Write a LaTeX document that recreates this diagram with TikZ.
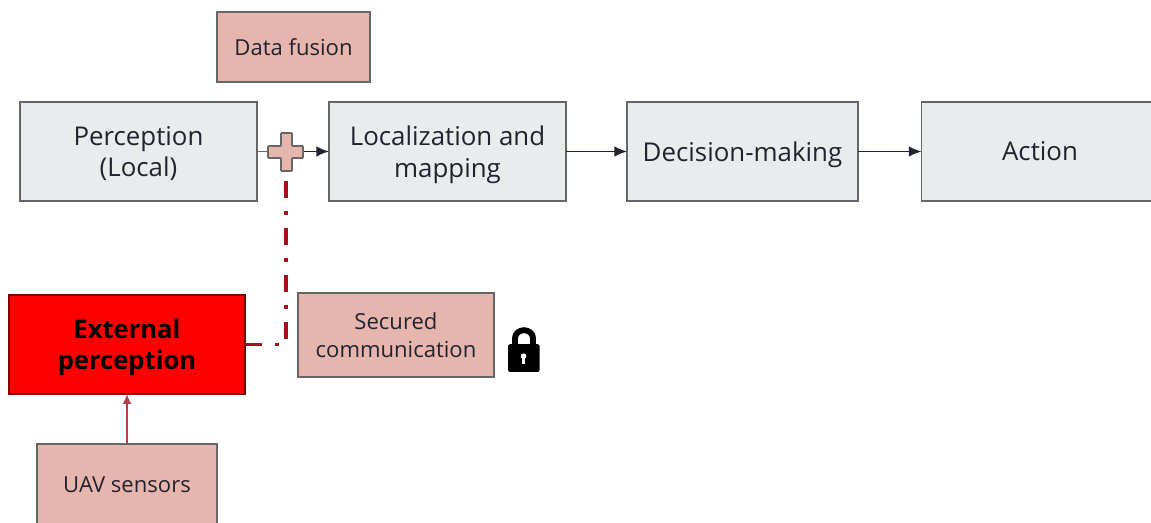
\documentclass[tikz,border=0pt]{standalone}
\usepackage{fontspec}
\setmainfont{Open Sans}
\usepackage{xcolor}
\usetikzlibrary{arrows.meta, calc}
\definecolor{boxgrey}{HTML}{E8ECEC}
\definecolor{boxpink}{HTML}{E6B5AD}
\definecolor{edgegrey}{HTML}{666666}
\definecolor{inkdark}{HTML}{23232F}
\definecolor{linkred}{HTML}{A80F1E}
\tikzset{
	stagebox/.style={draw=edgegrey,line width=1pt,fill=boxgrey,text=inkdark,outer sep=0pt,align=center,text depth=0pt,
		minimum width=5.925cm,minimum height=2.475cm,font=\fontsize{18.4}{22.7}\selectfont},
	pinkbox/.style={draw=edgegrey,line width=1pt,fill=boxpink,text=inkdark,outer sep=0pt,align=center,
		font=\fontsize{15.7}{20}\selectfont},
	flowarrow/.style={-{Latex[length=9pt,width=7.5pt]},line width=1pt,draw=inkdark},
}
\begin{document}
\begin{tikzpicture}
	\useasboundingbox (0,0) rectangle (28.775,13.075);

	% main chain
	\node[stagebox] (perception) at (3.4625,9.2875) {Perception\\(Local)};
	\node[stagebox] (localization) at (11.1875,9.2875) {Localization and\\mapping};
	\node[stagebox,minimum width=5.775cm] (decision) at (18.5625,9.2875) {Decision-making};
	\node[stagebox] (action) at (26,9.2875) {Action};
	\node[pinkbox,minimum width=3.825cm,minimum height=1.75cm] (fusion) at (7.3375,11.9) {Data fusion};

	% plus sign
	\node[minimum width=.875cm,minimum height=.3cm,inner sep=0pt,outer sep=0pt] (plus) at (7.15,9.2875) {};
	\coordinate (plusdown) at (7.15,8.625);

	% mapping lines
	\draw[flowarrow,-,draw=edgegrey] (perception) -- (plus);
	\draw[flowarrow] (plus) -- (localization);
	\draw[flowarrow] (localization) -- (decision);
	\draw[flowarrow] (decision) -- (action);
	\draw[draw=edgegrey,fill=boxpink,line width=1.2pt,rounded corners=.5pt]
	(6.7,9.125) -- (7.025,9.125) -- (7.025,8.8) -- (7.3,8.8) -- (7.3,9.125) -- (7.575,9.125)
	-- (7.575,9.425) -- (7.3,9.425) -- (7.3,9.75) -- (7.025,9.75) -- (7.025,9.425) -- (6.7,9.425) -- cycle;

	% external part
	\node[stagebox,draw=red!50!black,fill=red,text=black,minimum width=5.9cm,font=\fontsize{18.2}{22}\selectfont\bfseries] (external) at (3.175,4.4625) {External\\perception};
	\node[pinkbox,minimum width=4.9cm,minimum height=2.1cm] (secured) at (9.9,4.7) {Secured\\communication};
	\node[pinkbox,minimum width=4.5cm,minimum height=2.05cm] (sensors) at (3.175,.95) {UAV sensors};
	\draw[line width=2.8pt,linkred,dash pattern=on 12pt off 9.3pt on 2.8pt off 9.3pt] (external.east) -| (plusdown);
	\draw[-{Latex[length=7pt,width=6pt]},line width=.9pt,draw=linkred!80] (sensors) -- (external);

	% lock
	\draw[line width=4.2pt] (12.875,4.45) -- (12.875,4.62) arc (180:0:.225 and .2) -- (13.325,4.45);
	\fill[black,rounded corners=1.5pt] (12.7,3.775) rectangle (13.49,4.47);
	\fill[white] (13.09,4.17) circle (.07);
	\fill[white] (13.05,3.97) rectangle (13.13,4.15);
\end{tikzpicture}
\end{document}
